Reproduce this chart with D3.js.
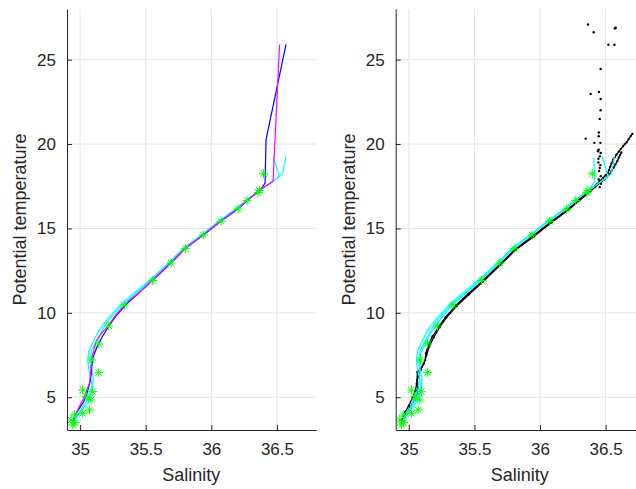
<!DOCTYPE html>
<html>
<head>
<meta charset="utf-8">
<script src="https://cdn.jsdelivr.net/npm/d3@7"></script>
<style>
  html, body { margin: 0; padding: 0; background: #fff; }
  svg { display: block; }
  text { font-family: "Liberation Sans", Arial, Helvetica, sans-serif; fill: #262626; }
</style>
</head>
<body>
<svg id="chart" width="636" height="489"></svg>
<script>
// ---- axis settings ----
const salinityDomain = [34.9, 36.8];
const tempDomain = [3.06, 28.0];
const salinityTicks = [35, 35.5, 36, 36.5];
const tempTicks = [5, 10, 15, 20, 25];

// ---- profiles, [salinity, potential temperature] ----
const blueProfile = [
  [36.569,25.90],[36.417,20.26],[36.412,18.6],[36.410,17.69],[36.38,17.35],[36.285,16.72],
  [36.205,16.17],[36.075,15.44],[35.942,14.63],[35.803,13.82],[35.695,12.97],[35.555,11.94],
  [35.452,11.21],[35.352,10.50],[35.272,9.80],[35.222,9.25],[35.17,8.6],[35.13,8.0],[35.10,7.4],
  [35.09,6.9],[35.085,6.4],[35.075,5.9],[35.06,5.45],[35.045,5.05],[35.025,4.7],[34.99,4.3],
  [34.96,3.9],[34.945,3.5]
];
const magentaProfile = [
  [36.52,25.90],[36.47,17.79],[36.37,17.28],[36.28,16.70],[36.20,16.16],[36.07,15.43],
  [35.94,14.62],[35.80,13.81],[35.69,12.96],[35.55,11.93],[35.45,11.2],[35.35,10.58],
  [35.27,9.85],[35.218,9.29],[35.16,8.75],[35.122,8.30],[35.096,7.51],[35.084,6.82],
  [35.078,6.3],[35.071,5.83],[35.046,5.33],[35.02,4.84],[34.98,4.25],[34.944,3.55]
];
const cyanProfileA = [
  [36.474,19.27],[36.518,18.08],[36.45,17.7],[36.37,17.25],[36.27,16.7],[36.19,16.18],
  [36.06,15.45],[35.93,14.65],[35.79,13.85],[35.68,13.0],[35.54,12.0],[35.43,11.3],
  [35.33,10.65],[35.25,10.0],[35.19,9.45],[35.14,8.9],[35.10,8.3],[35.065,7.7],[35.058,7.2],
  [35.065,6.7],[35.08,6.2],[35.09,5.7],[35.075,5.2],[35.05,4.8],[35.01,4.3],[34.97,3.85],
  [34.945,3.4]
];
const cyanProfileB = [
  [36.569,19.31],[36.543,18.24],[36.46,17.75],[36.38,17.3],[36.275,16.72],[36.195,16.2],
  [36.065,15.47],[35.935,14.66],[35.795,13.86],[35.685,13.01],[35.545,11.98],[35.44,11.25],
  [35.34,10.6],[35.26,9.95],[35.2,9.4],[35.172,9.0],[35.122,8.3],[35.09,7.8],[35.075,7.3],
  [35.08,6.8],[35.1,6.2],[35.095,5.6],[35.08,5.1],[35.06,4.7],[35.02,4.3],[34.98,3.9],
  [34.95,3.45]
];
const cyanProfileC = [
  [36.41,19.18],[36.417,17.78],[36.38,17.4],[36.28,16.74],[36.2,16.2],[36.07,15.47],
  [35.94,14.66],[35.8,13.85],[35.69,13.0],[35.55,11.97],[35.445,11.23],[35.345,10.55],
  [35.265,9.85],[35.21,9.3],[35.16,8.7],[35.12,8.1],[35.09,7.6],[35.082,7.1],[35.085,6.6],
  [35.08,6.0],[35.07,5.5],[35.05,5.0],[35.02,4.5],[34.98,4.0],[34.95,3.5]
];
const blackProfileA = [
  [36.704,20.6],[36.69,20.45],[36.675,20.28],[36.66,20.1],[36.645,19.98],[36.632,19.86],
  [36.615,19.7],[36.60,19.55],[36.582,19.37],[36.57,19.22],[36.556,19.07],[36.545,18.85],
  [36.535,18.65],[36.525,18.45],[36.518,18.29],[36.50,18.15],[36.48,18.0],[36.455,17.8],
  [36.43,17.6],[36.40,17.4],[36.37,17.2],[36.295,16.68],[36.212,16.13],[36.082,15.39],
  [35.948,14.57],[35.808,13.76],[35.698,12.91],[35.558,11.87],[35.455,11.14],[35.36,10.45],
  [35.28,9.75],[35.23,9.2],[35.18,8.6],[35.148,8.1],[35.13,7.6],[35.125,7.2],[35.10,6.8],
  [35.065,6.5],[35.063,6.03],[35.068,5.6],[35.06,5.2],[35.04,4.8],[35.01,4.4],[34.98,4.0],
  [34.96,3.6]
];
const blackProfileB = [
  [36.62,19.5],[36.61,19.35],[36.60,19.2],[36.59,19.0],[36.575,18.8],[36.56,18.6],
  [36.545,18.4],[36.53,18.2],[36.51,18.05],[36.49,17.9],[36.46,17.7],[36.42,17.45],
  [36.39,17.25],[36.3,16.66],[36.218,16.11],[36.088,15.35],[35.953,14.53],[35.813,13.72],
  [35.703,12.87],[35.563,11.83],[35.46,11.1],[35.365,10.4],[35.285,9.7],[35.235,9.15],
  [35.19,8.55],[35.155,8.0],[35.135,7.5],[35.115,7.0],[35.09,6.6],[35.07,6.2],[35.06,5.8],
  [35.05,5.4],[35.03,5.0],[35.0,4.5],[34.97,4.1],[34.95,3.7]
];
const blackScatter = [
  [36.366,27.08],[36.409,26.62],[36.577,26.89],[36.57,26.85],[36.521,25.88],[36.567,25.88],
  [36.462,24.45],[36.386,22.97],[36.449,23.09],[36.462,22.67],[36.462,22.0],[36.455,21.49],
  [36.449,20.68],[36.447,20.46],[36.348,20.32],[36.414,20.07],[36.46,20.07],[36.447,19.67],
  [36.462,19.47],[36.442,19.57],[36.455,19.27],[36.445,19.13],[36.445,18.91],[36.46,18.75],
  [36.455,18.58],[36.45,18.4],[36.462,18.1],[36.447,17.9],[36.465,17.65],[36.455,17.45]
];
const stations = [
  [36.398,18.24],[36.366,17.25],[36.355,17.12],[36.272,16.66],[36.203,16.15],[36.074,15.42],
  [35.939,14.61],[35.802,13.80],[35.693,12.95],[35.553,11.92],[35.337,10.46],[35.218,9.23],
  [35.142,8.16],[35.088,7.21],[35.142,6.46],[35.02,5.43],[35.096,5.33],[35.046,5.04],
  [35.083,4.84],[35.071,4.25],[35.02,4.05],[34.957,3.95],[34.931,3.65],[34.944,3.36],
  [34.96,3.5]
];

const leftLines = [
  { data: cyanProfileA, color: "#00ffff" },
  { data: cyanProfileB, color: "#00ffff" },
  { data: blueProfile, color: "#0000ff" },
  { data: magentaProfile, color: "#ff00ff" }
];
const rightLines = [
  { data: cyanProfileA, color: "#00ffff" },
  { data: cyanProfileB, color: "#00ffff" },
  { data: cyanProfileC, color: "#00ffff" }
];

const svg = d3.select("#chart");
const axTop = 9, axBottom = 430, axWidth = 249.3;

function panel(x0, drawContent) {
  const x = d3.scaleLinear().domain(salinityDomain).range([x0, x0 + axWidth]);
  const y = d3.scaleLinear().domain(tempDomain).range([axBottom, axTop]);
  const g = svg.append("g");

  // grid
  g.selectAll(".vgrid").data(salinityTicks).join("line")
    .attr("x1", d => x(d)).attr("x2", d => x(d))
    .attr("y1", axTop).attr("y2", axBottom)
    .attr("stroke", "#e3e3e3").attr("stroke-width", 1);
  g.selectAll(".hgrid").data(tempTicks).join("line")
    .attr("x1", x0).attr("x2", x0 + axWidth)
    .attr("y1", d => y(d)).attr("y2", d => y(d))
    .attr("stroke", "#e3e3e3").attr("stroke-width", 1);

  const clipId = "clip" + Math.round(x0);
  svg.append("clipPath").attr("id", clipId).append("rect")
    .attr("x", x0).attr("y", axTop).attr("width", axWidth).attr("height", axBottom - axTop);
  const plot = g.append("g").attr("clip-path", `url(#${clipId})`);
  drawContent(plot, x, y);

  // axes with inward ticks
  const xAxis = d3.axisBottom(x).tickValues(salinityTicks).tickFormat(d => String(d))
    .tickSizeInner(-5).tickSizeOuter(0).tickPadding(13);
  const yAxis = d3.axisLeft(y).tickValues(tempTicks).tickFormat(d => String(d))
    .tickSizeInner(-5).tickSizeOuter(0).tickPadding(11);
  const gx = g.append("g").attr("transform", `translate(0,${axBottom})`).call(xAxis);
  const gy = g.append("g").attr("transform", `translate(${x0},0)`).call(yAxis);
  [gx, gy].forEach(a => {
    a.select(".domain").attr("stroke", "#262626");
    a.selectAll(".tick line").attr("stroke", "#262626");
    a.selectAll(".tick text").attr("fill", "#262626")
      .style("font-family", '"Liberation Sans", Arial, sans-serif').style("font-size", "17px");
  });

  g.append("text").attr("x", x0 + axWidth / 2 - 0.5).attr("y", 481)
    .attr("text-anchor", "middle").style("font-size", "18px").text("Salinity");
  g.append("text").attr("transform", `translate(${x0 - 41},${(axTop + axBottom) / 2}) rotate(-90)`)
    .attr("text-anchor", "middle").style("font-size", "18px").text("Potential temperature");
}

function drawLines(plot, x, y, lines) {
  const line = d3.line().x(d => x(d[0])).y(d => y(d[1]));
  plot.selectAll(null).data(lines).join("path")
    .attr("d", d => line(d.data)).attr("fill", "none")
    .attr("stroke", d => d.color).attr("stroke-width", 1.2);
}

function drawStars(plot, x, y) {
  const r = 4.5, q = 3.2;
  const s = plot.selectAll(null).data(stations).join("g")
    .attr("transform", d => `translate(${x(d[0])},${y(d[1])})`)
    .attr("stroke", "#00ff00").attr("stroke-width", 1);
  s.append("line").attr("x1", -r).attr("x2", r).attr("y1", 0).attr("y2", 0);
  s.append("line").attr("x1", 0).attr("x2", 0).attr("y1", -r).attr("y2", r);
  s.append("line").attr("x1", -q).attr("x2", q).attr("y1", -q).attr("y2", q);
  s.append("line").attr("x1", -q).attr("x2", q).attr("y1", q).attr("y2", -q);
}

// left panel: individual casts
panel(67, (plot, x, y) => {
  drawLines(plot, x, y, leftLines);
  drawStars(plot, x, y);
});

// right panel: high-resolution samples with casts on top
panel(395.7, (plot, x, y) => {
  const line = d3.line().x(d => x(d[0])).y(d => y(d[1]));
  [blackProfileA, blackProfileB].forEach(p => {
    plot.append("path").attr("d", line(p)).attr("fill", "none")
      .attr("stroke", "#000").attr("stroke-width", 1.3);
    plot.selectAll(null).data(p).join("circle")
      .attr("cx", d => x(d[0])).attr("cy", d => y(d[1])).attr("r", 1.15).attr("fill", "#000");
  });
  plot.selectAll(null).data(blackScatter).join("circle")
    .attr("cx", d => x(d[0])).attr("cy", d => y(d[1])).attr("r", 1.2).attr("fill", "#000");
  drawLines(plot, x, y, rightLines);
  drawStars(plot, x, y);
});
</script>
</body>
</html>
